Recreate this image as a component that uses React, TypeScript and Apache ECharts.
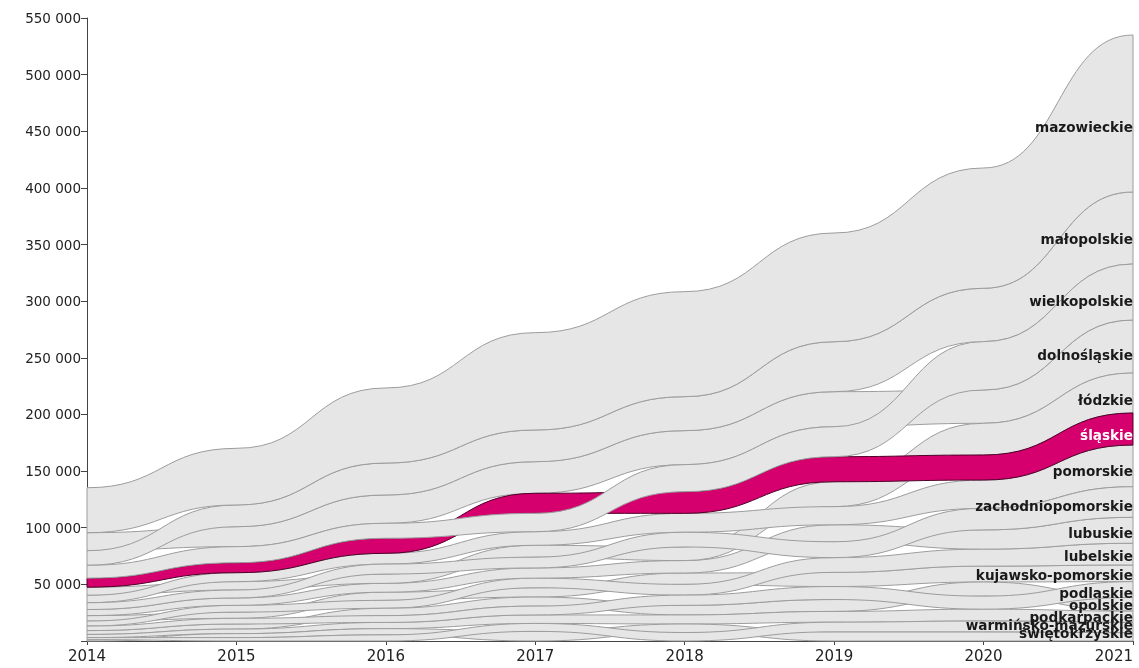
import React, { useEffect, useRef } from "react";
import * as echarts from "echarts";

const years = [2014, 2015, 2016, 2017, 2018, 2019, 2020, 2021];

// regions in drawing order (official TERYT order)
const regions = [
  "dolnośląskie", "kujawsko-pomorskie", "lubelskie", "lubuskie", "łódzkie", "małopolskie",
  "mazowieckie", "opolskie", "podkarpackie", "podlaskie", "pomorskie", "śląskie",
  "świętokrzyskie", "warmińsko-mazurskie", "wielkopolskie", "zachodniopomorskie",
];

const dolnoslaskie = [15900, 17600, 25000, 27900, 30000, 30900, 29400, 46800];
const kujawskoPomorskie = [4800, 5500, 7200, 8200, 10000, 12500, 14000, 14700];
const lubelskie = [4400, 6000, 7000, 8500, 9500, 13000, 15000, 19200];
const lubuskie = [5400, 6500, 7800, 9000, 11000, 15000, 17000, 22900];
const lodzkie = [7200, 7400, 8200, 10500, 12000, 22000, 28000, 35300];
const malopolskie = [12900, 19200, 28200, 28000, 30000, 44100, 47100, 63600];
const mazowieckie = [39700, 50000, 66300, 85900, 92700, 96000, 106200, 138600];
const opolskie = [3400, 4500, 6500, 8000, 8500, 10500, 12500, 12000];
const podkarpackie = [2800, 4000, 5500, 7500, 8000, 9500, 10500, 10000];
const podlaskie = [4000, 5000, 6000, 7800, 9000, 11500, 11500, 14000];
const pomorskie = [6500, 7900, 9500, 12000, 16700, 16000, 25000, 36800];
const slaskie = [8000, 8800, 13300, 17700, 19100, 22100, 22100, 28300];
const swietokrzyskie = [1200, 3500, 5500, 8500, 7500, 8100, 8100, 7400];
const warminskoMazurskie = [1800, 3000, 5400, 7000, 7500, 8500, 9500, 9000];
const wielkopolskie = [11300, 14200, 13200, 16200, 23900, 26500, 42700, 49400];
const zachodniopomorskie = [6000, 7000, 8800, 9500, 13000, 14000, 19000, 27000];

// stacking order in each year, top to bottom
const order2014 = ["mazowieckie", "dolnośląskie", "małopolskie", "wielkopolskie", "śląskie", "łódzkie", "pomorskie", "zachodniopomorskie", "lubuskie", "kujawsko-pomorskie", "lubelskie", "podlaskie", "opolskie", "podkarpackie", "warmińsko-mazurskie", "świętokrzyskie"];
const order2015 = ["mazowieckie", "małopolskie", "dolnośląskie", "wielkopolskie", "śląskie", "pomorskie", "łódzkie", "zachodniopomorskie", "lubuskie", "lubelskie", "kujawsko-pomorskie", "podlaskie", "opolskie", "podkarpackie", "świętokrzyskie", "warmińsko-mazurskie"];
const order2016 = ["mazowieckie", "małopolskie", "dolnośląskie", "wielkopolskie", "śląskie", "pomorskie", "zachodniopomorskie", "łódzkie", "lubuskie", "kujawsko-pomorskie", "lubelskie", "opolskie", "podlaskie", "podkarpackie", "świętokrzyskie", "warmińsko-mazurskie"];
const order2017 = ["mazowieckie", "małopolskie", "dolnośląskie", "śląskie", "wielkopolskie", "pomorskie", "łódzkie", "zachodniopomorskie", "lubuskie", "lubelskie", "kujawsko-pomorskie", "opolskie", "podlaskie", "podkarpackie", "warmińsko-mazurskie", "świętokrzyskie"];
const order2018 = ["mazowieckie", "małopolskie", "dolnośląskie", "wielkopolskie", "śląskie", "pomorskie", "zachodniopomorskie", "łódzkie", "lubuskie", "kujawsko-pomorskie", "lubelskie", "podlaskie", "opolskie", "podkarpackie", "świętokrzyskie", "warmińsko-mazurskie"];
const order2019 = ["mazowieckie", "małopolskie", "dolnośląskie", "wielkopolskie", "śląskie", "łódzkie", "pomorskie", "lubuskie", "zachodniopomorskie", "lubelskie", "kujawsko-pomorskie", "podlaskie", "opolskie", "podkarpackie", "warmińsko-mazurskie", "świętokrzyskie"];
const order2020 = ["mazowieckie", "małopolskie", "wielkopolskie", "dolnośląskie", "łódzkie", "śląskie", "pomorskie", "zachodniopomorskie", "lubuskie", "lubelskie", "kujawsko-pomorskie", "opolskie", "podlaskie", "podkarpackie", "warmińsko-mazurskie", "świętokrzyskie"];
const order2021 = ["mazowieckie", "małopolskie", "wielkopolskie", "dolnośląskie", "łódzkie", "śląskie", "pomorskie", "zachodniopomorskie", "lubuskie", "lubelskie", "kujawsko-pomorskie", "podlaskie", "opolskie", "podkarpackie", "warmińsko-mazurskie", "świętokrzyskie"];

const yTicks = [0, 50000, 100000, 150000, 200000, 250000, 300000, 350000, 400000, 450000, 500000, 550000];

const highlighted = "śląskie";

const valuesByRegion = [
  dolnoslaskie, kujawskoPomorskie, lubelskie, lubuskie, lodzkie, malopolskie,
  mazowieckie, opolskie, podkarpackie, podlaskie, pomorskie, slaskie,
  swietokrzyskie, warminskoMazurskie, wielkopolskie, zachodniopomorskie,
];
const yearOrders = [order2014, order2015, order2016, order2017, order2018, order2019, order2020, order2021];

function computeStacks() {
  const lower = regions.map(() => years.map(() => 0));
  const upper = regions.map(() => years.map(() => 0));
  yearOrders.forEach((ord, j) => {
    let base = 0;
    for (let k = ord.length - 1; k >= 0; k--) {
      const r = regions.indexOf(ord[k]);
      lower[r][j] = base;
      base += valuesByRegion[r][j];
      upper[r][j] = base;
    }
  });
  return { lower, upper };
}

export default function App() {
  const ref = useRef<HTMLDivElement>(null);

  useEffect(() => {
    if (!ref.current) return;
    const chart = echarts.init(ref.current, null, { renderer: "svg" });
    const { lower, upper } = computeStacks();
    const n = years.length;

    const bandItem = (params: any, api: any) => {
      const r = params.dataIndex;
      const top = years.map((y, j) => api.coord([y, upper[r][j]]));
      const bot = years.map((y, j) => api.coord([y, lower[r][j]]));
      let d = `M${top[0][0]},${top[0][1]}`;
      for (let j = 0; j < n - 1; j++) {
        const a = top[j];
        const b = top[j + 1];
        const xm = (a[0] + b[0]) / 2;
        d += `C${xm},${a[1]} ${xm},${b[1]} ${b[0]},${b[1]}`;
      }
      d += `L${bot[n - 1][0]},${bot[n - 1][1]}`;
      for (let j = n - 1; j > 0; j--) {
        const a = bot[j];
        const b = bot[j - 1];
        const xm = (a[0] + b[0]) / 2;
        d += `C${xm},${a[1]} ${xm},${b[1]} ${b[0]},${b[1]}`;
      }
      d += "Z";
      const hl = regions[r] === highlighted;
      return {
        type: "path",
        shape: { pathData: d },
        style: {
          fill: hl ? "#d5006d" : "#e6e6e6",
          stroke: hl ? "#4d0028" : "#9c9c9c",
          lineWidth: 1,
        },
      };
    };

    const labelItem = (params: any, api: any) => {
      const r = params.dataIndex;
      const frac = 0.9;
      const pos: Record<string, number> = {};
      let limit = api.coord([years[n - 1], 0])[1] - 8;
      for (let k = order2021.length - 1; k >= 0; k--) {
        const ri = regions.indexOf(order2021[k]);
        const cPrev = (upper[ri][n - 2] + lower[ri][n - 2]) / 2;
        const cLast = (upper[ri][n - 1] + lower[ri][n - 1]) / 2;
        const c = cPrev + (cLast - cPrev) * frac;
        let yPix = api.coord([years[n - 1], c])[1] + 2;
        if (yPix > limit) yPix = limit;
        pos[order2021[k]] = yPix;
        limit = yPix - 8;
      }
      const hl = regions[r] === highlighted;
      const x = api.coord([years[n - 1], 0])[0];
      return {
        type: "text",
        style: {
          text: regions[r],
          x,
          y: pos[regions[r]],
          align: "right",
          verticalAlign: "middle",
          fill: hl ? "#ffffff" : "#1a1a1a",
          fontSize: 13.6,
          fontWeight: "bold",
          fontFamily: "DejaVu Sans",
        },
      };
    };

    const option: any = {
      animation: false,
      grid: { left: 87, right: 6, top: 18, bottom: 27, containLabel: false, outerBoundsMode: "none" },
      xAxis: {
        type: "value",
        min: years[0],
        max: years[years.length - 1],
        interval: 1,
        splitLine: { show: false },
        axisLine: { show: true, lineStyle: { color: "#444", width: 1 } },
        axisTick: { show: true, length: 4, lineStyle: { color: "#444" } },
        axisLabel: {
          formatter: (v: number) => String(v),
          fontFamily: "DejaVu Sans",
          fontSize: 15,
          color: "#222",
          margin: 7,
          alignMaxLabel: "right",
        },
      },
      yAxis: {
        type: "value",
        min: yTicks[0],
        max: yTicks[yTicks.length - 1],
        interval: yTicks[1] - yTicks[0],
        splitLine: { show: false },
        axisLine: { show: true, lineStyle: { color: "#444", width: 1 } },
        axisTick: { show: true, length: 6, lineStyle: { color: "#444" } },
        axisLabel: {
          formatter: (v: number) => (v === 0 ? "" : `${Math.round(v / 1000)} 000`),
          fontFamily: "DejaVu Sans",
          fontSize: 13.5,
          color: "#222",
          margin: 6,
        },
      },
      series: [
        {
          type: "custom",
          z: 2,
          silent: true,
          renderItem: bandItem,
          encode: { x: 0, y: 1 },
          data: regions.map(() => [years[0], 0]),
        },
        {
          type: "custom",
          z: 3,
          silent: true,
          renderItem: labelItem,
          encode: { x: 0, y: 1 },
          data: regions.map(() => [years[years.length - 1], 0]),
        },
      ],
    };
    chart.setOption(option);
    return () => chart.dispose();
  }, []);

  return (
    <div
      ref={ref}
      style={{ position: "fixed", left: 0, top: 0, width: 1139, height: 668 }}
    />
  );
}
